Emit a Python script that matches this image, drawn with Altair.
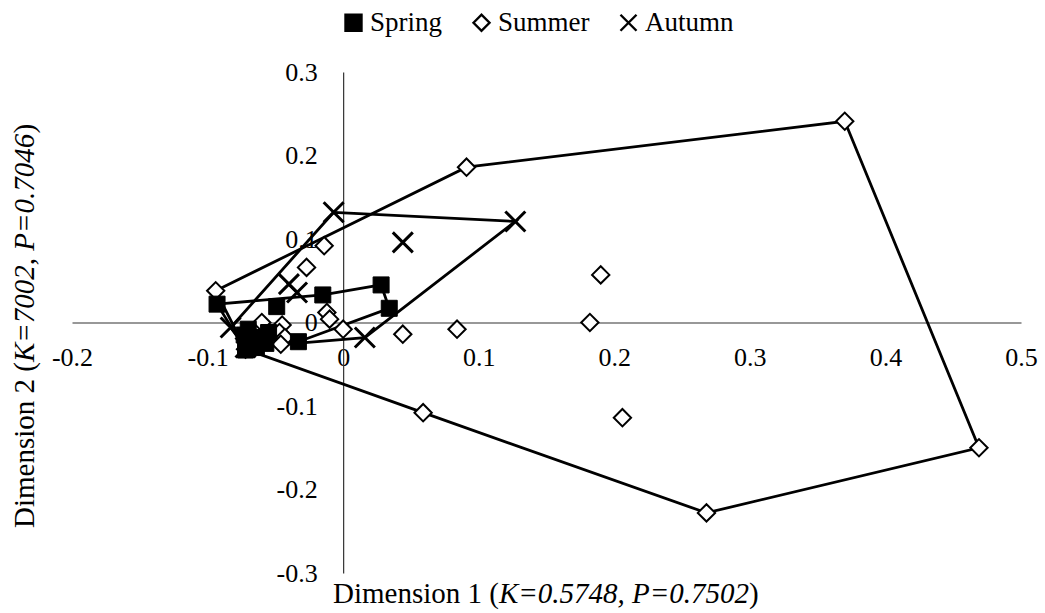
import altair as alt
import pandas as pd

FONT = "Liberation Serif"

seasons = ["Spring", "Summer", "Autumn"]

# Convex hull vertices (in drawing order) and interior points for each season
spring_hull_x = [-0.093, -0.015, 0.028, 0.034, -0.033, -0.072]
spring_hull_y = [0.022, 0.033, 0.045, 0.017, -0.023, -0.033]
spring_in_x = [-0.049, -0.073, -0.068, -0.062, -0.057, -0.070, -0.064, -0.055]
spring_in_y = [0.019, -0.015, -0.024, -0.018, -0.025, -0.008, -0.030, -0.012]

summer_hull_x = [-0.094, 0.091, 0.370, 0.469, 0.268, 0.059, -0.072]
summer_hull_y = [0.038, 0.186, 0.241, -0.150, -0.228, -0.108, -0.032]
summer_in_x = [0.190, 0.182, 0.206, 0.084, 0.044, 0.000, -0.014, -0.027, -0.012,
               -0.010, -0.045, -0.047, -0.043, -0.046, -0.060, -0.066]
summer_in_y = [0.057, 0.000, -0.114, -0.008, -0.014, -0.008, 0.092, 0.066, 0.012,
               0.004, -0.003, -0.012, -0.018, -0.026, 0.000, -0.020]

autumn_hull_x = [-0.007, 0.127, 0.016, -0.072, -0.083]
autumn_hull_y = [0.132, 0.121, -0.018, -0.030, -0.006]
autumn_in_x = [0.044, -0.040, -0.034, -0.065]
autumn_in_y = [0.096, 0.046, 0.036, -0.020]

x_ticks = [-0.2, -0.1, 0.0, 0.1, 0.2, 0.3, 0.4, 0.5]
y_ticks = [-0.3, -0.2, -0.1, 0.0, 0.1, 0.2, 0.3]

groups = {
    "Spring": (spring_hull_x, spring_hull_y, spring_in_x, spring_in_y),
    "Summer": (summer_hull_x, summer_hull_y, summer_in_x, summer_in_y),
    "Autumn": (autumn_hull_x, autumn_hull_y, autumn_in_x, autumn_in_y),
}

hull_rows, pt_rows = [], []
for s, (hx, hy, ix, iy) in groups.items():
    n = len(hx)
    for k in range(n + 1):
        hull_rows.append({"season": s, "x": hx[k % n], "y": hy[k % n], "ord": k})
    for a, b in zip(hx + ix, hy + iy):
        pt_rows.append({"season": s, "x": a, "y": b})

hull_df = pd.DataFrame(hull_rows)
pt_df = pd.DataFrame(pt_rows)

W, H = 949, 501

xscale = alt.Scale(domain=[-0.2, 0.5], nice=False, zero=False)
yscale = alt.Scale(domain=[-0.3, 0.3], nice=False, zero=False)

lab = "datum.value == 0 ? '0' : toString(round(datum.value*10)/10)"

xaxis = alt.Axis(values=x_ticks, labelExpr=lab, title=None, grid=False, ticks=False,
                 tickSize=0, offset=-H / 2, labelPadding=22, labelFont=FONT,
                 labelFontSize=26, labelColor="black", domainColor="#333333",
                 domainWidth=1.2, labelFlush=False, labelOverlap=False)
yaxis = alt.Axis(values=y_ticks, labelExpr=lab, title=None, grid=False, ticks=False,
                 tickSize=0, offset=-W * 0.2 / 0.7, labelPadding=26, labelFont=FONT,
                 labelFontSize=26, labelColor="black", domainColor="#333333",
                 domainWidth=1.2, labelFlush=False, labelOverlap=False)

hull = alt.Chart(hull_df).mark_line(color="black", strokeWidth=2.8).encode(
    x=alt.X("x:Q", scale=xscale, axis=xaxis),
    y=alt.Y("y:Q", scale=yscale, axis=yaxis),
    detail="season:N",
    order="ord:Q",
)

xpath = "M-1,-1L1,1M-1,1L1,-1"
leg = alt.Legend(orient="none", legendX=268, legendY=-63, direction="horizontal", title=None,
                 labelFont=FONT, labelFontSize=27, labelColor="black", symbolSize=256,
                 symbolStrokeWidth=2.4, labelOffset=3, columnPadding=25, padding=0)

shape_enc = alt.Shape("season:N", scale=alt.Scale(domain=seasons, range=["square", "diamond", xpath]),
                      legend=leg)
fill_enc = alt.Fill("season:N", scale=alt.Scale(domain=seasons, range=["black", "white", "white"]),
                    legend=leg)
stroke_enc = alt.Stroke("season:N", scale=alt.Scale(domain=seasons, range=["black", "black", "black"]),
                        legend=leg)

def pts(season, size, sw):
    return alt.Chart(pt_df).transform_filter(
        alt.datum.season == season
    ).mark_point(opacity=1, size=size, strokeWidth=sw).encode(
        x=alt.X("x:Q", scale=xscale, axis=xaxis),
        y=alt.Y("y:Q", scale=yscale, axis=yaxis),
        shape=shape_enc,
        fill=fill_enc,
        stroke=stroke_enc,
    )

p_summer = pts("Summer", 300, 2)
p_spring = pts("Spring", 256, 1)
p_autumn = pts("Autumn", 400, 3)

def seg(text, x, y, italic=False, angle=0):
    kw = dict(text=text, font=FONT, fontSize=29, align="left", baseline="alphabetic",
              color="black", fontStyle="italic" if italic else "normal")
    if angle:
        kw["angle"] = angle
    return alt.Chart(alt.Data(values=[{}])).mark_text(**kw).encode(
        x=alt.value(x), y=alt.value(y))

# x title pieces (relative to plot origin)
xt = [
    seg("Dimension 1 (", 261, 531),
    seg("K=0.5748, P=0.7502", 261 + 165.9, 531, italic=True),
    seg(")", 261 + 165.9 + 250.2, 531),
]
yt = [
    seg("Dimension 2 (", -38, 456, angle=270),
    seg("K=7002, P=0.7046", -38, 456 - 165.9, italic=True, angle=270),
    seg(")", -38, 456 - 165.9 - 228.5, angle=270),
]

chart = alt.layer(hull, p_summer, p_spring, p_autumn, *xt, *yt).resolve_scale(
    shape="shared", fill="shared", stroke="shared"
).properties(
    width=W, height=H,
    autosize=alt.AutoSizeParams(type="none"),
    padding={"left": 72, "top": 72, "right": 24, "bottom": 40},
    background="white",
).configure_view(stroke=None)

chart.save("out.html", embed_options={"renderer": "svg", "actions": False})
